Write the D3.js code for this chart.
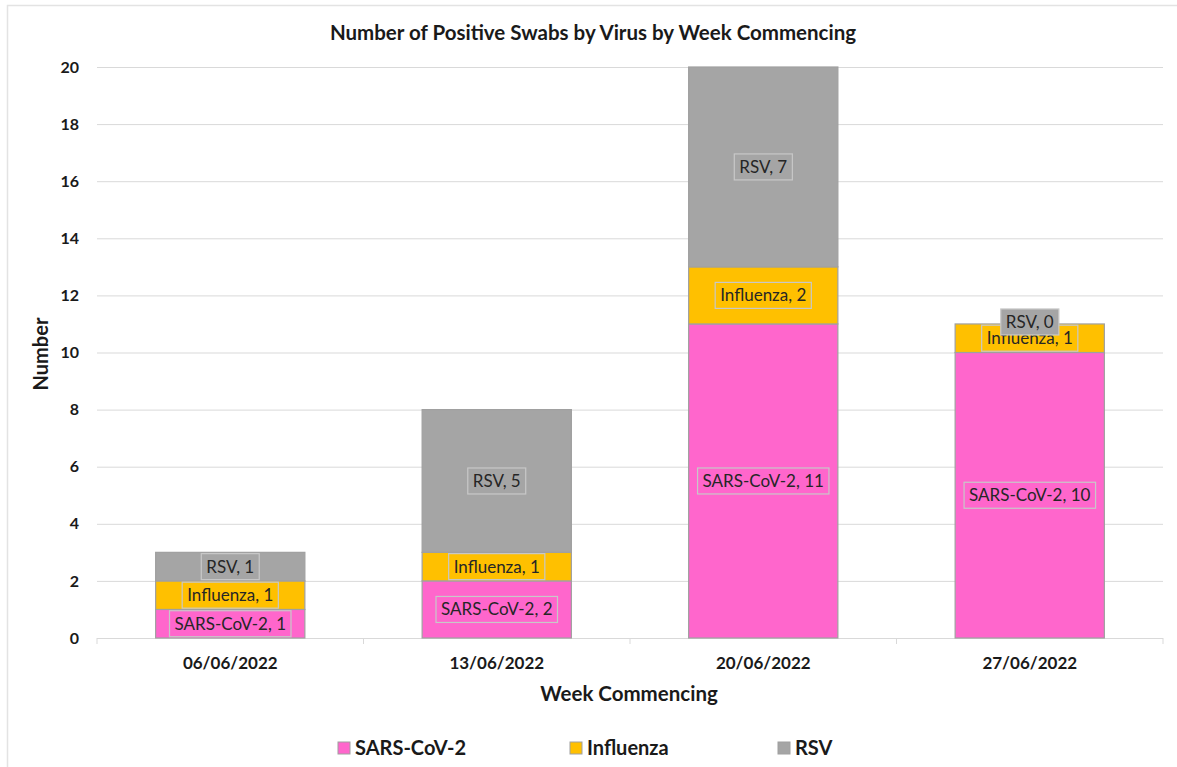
<!DOCTYPE html>
<html><head><meta charset="utf-8">
<script src="https://cdn.jsdelivr.net/npm/d3@7"></script>
<style>body{margin:0;background:#fff}svg{display:block}text{font-family:Lato,"Open Sans",sans-serif}</style>
</head><body><svg id="c" width="1177" height="767"></svg>
<script>
const weeks = ["06/06/2022","13/06/2022","20/06/2022","27/06/2022"];
const sars = [1,2,11,10];
const influenza = [1,1,2,1];
const rsv = [1,5,7,0];
const seriesNames = ["SARS-CoV-2","Influenza","RSV"];
const colors = ["#FF66CC","#FFC000","#A5A5A5"];
const yTicks = [0,2,4,6,8,10,12,14,16,18,20];

const svg = d3.select("#c");
svg.append("rect").attr("x",7.5).attr("y",5.5).attr("width",1175).attr("height",770).attr("fill","#fff").attr("stroke","#E3E3E3").attr("stroke-width",1.5);

const m = {l:97,r:1163,t:67,b:638};
const x = d3.scaleBand().domain(weeks).range([m.l,m.r]).paddingInner(0.44).paddingOuter(0.22);
const y = d3.scaleLinear().domain([0,20]).range([m.b,m.t]);

// grid
svg.append("g").selectAll("line").data(yTicks).join("line")
 .attr("x1",m.l).attr("x2",m.r).attr("y1",d=>y(d)+0.5).attr("y2",d=>y(d)+0.5)
 .attr("stroke","#D9D9D9").attr("stroke-width",1);

// x axis ticks between categories
const bounds = d3.range(weeks.length+1).map(i=>m.l + i*(m.r-m.l)/weeks.length);
svg.append("g").selectAll("line").data(bounds).join("line")
 .attr("x1",d=>d).attr("x2",d=>d).attr("y1",m.b).attr("y2",m.b+6).attr("stroke","#D9D9D9");

// y labels
svg.append("g").selectAll("text").data(yTicks).join("text")
 .attr("x",79).attr("y",d=>y(d)).attr("dy","0.35em").attr("text-anchor","end")
 .attr("font-weight","bold").attr("font-size",16).attr("fill","#1a1a1a").text(d=>d);

// x labels
svg.append("g").selectAll("text").data(weeks).join("text")
 .attr("x",d=>x(d)+x.bandwidth()/2).attr("y",669).attr("text-anchor","middle")
 .attr("font-weight","bold").attr("font-size",17).attr("fill","#1a1a1a").text(d=>d);

// stack
const table = weeks.map((w,i)=>({week:w,"SARS-CoV-2":sars[i],"Influenza":influenza[i],"RSV":rsv[i]}));
const stack = d3.stack().keys(seriesNames)(table);

const g = svg.append("g");
stack.forEach((s,si)=>{
  g.selectAll(null).data(s).join("rect")
   .attr("x",d=>x(d.data.week)).attr("width",x.bandwidth())
   .attr("y",d=>y(d[1])).attr("height",d=>y(d[0])-y(d[1]))
   .attr("fill",colors[si]).attr("stroke","#A0A0A0").attr("stroke-width",1.2);
});

// labels
const lg = svg.append("g");
stack.forEach((s,si)=>{
  s.forEach(d=>{
    const v = d[1]-d[0];
    const cx = x(d.data.week)+x.bandwidth()/2;
    const cy = v===0 ? y(d[1])-2 : (y(d[0])+y(d[1]))/2;
    const txt = seriesNames[si]+", "+v;
    const t = lg.append("text").attr("x",cx).attr("y",cy).attr("dy","0.35em").attr("text-anchor","middle")
      .attr("font-size",17).attr("fill","#262626").text(txt);
    const bb = t.node().getBBox();
    lg.insert("rect",()=>t.node()).attr("x",bb.x-5).attr("y",cy-13).attr("width",bb.width+10).attr("height",26)
      .attr("fill",colors[si]).attr("stroke","#C8C8C8").attr("stroke-width",1.2);
  });
});

// titles
svg.append("text").attr("x",593).attr("y",40).attr("text-anchor","middle").attr("font-weight","bold")
 .attr("font-size",20.5).attr("fill","#1a1a1a").text("Number of Positive Swabs by Virus by Week Commencing");
svg.append("text").attr("x",629).attr("y",701).attr("text-anchor","middle").attr("font-weight","bold")
 .attr("font-size",20.5).attr("fill","#1a1a1a").text("Week Commencing");
svg.append("text").attr("transform","translate(48,354) rotate(-90)").attr("text-anchor","middle").attr("font-weight","bold")
 .attr("font-size",20).attr("fill","#1a1a1a").text("Number");

// legend
const legX = [338,570,778];
const leg = svg.append("g");
seriesNames.forEach((n,i)=>{
  leg.append("rect").attr("x",legX[i]).attr("y",742).attr("width",12).attr("height",12)
   .attr("fill",colors[i]).attr("stroke","#A0A0A0");
  leg.append("text").attr("x",legX[i]+17).attr("y",748).attr("dy","0.35em").attr("font-weight","bold")
   .attr("font-size",20).attr("fill","#1a1a1a").text(n);
});
</script></body></html>
